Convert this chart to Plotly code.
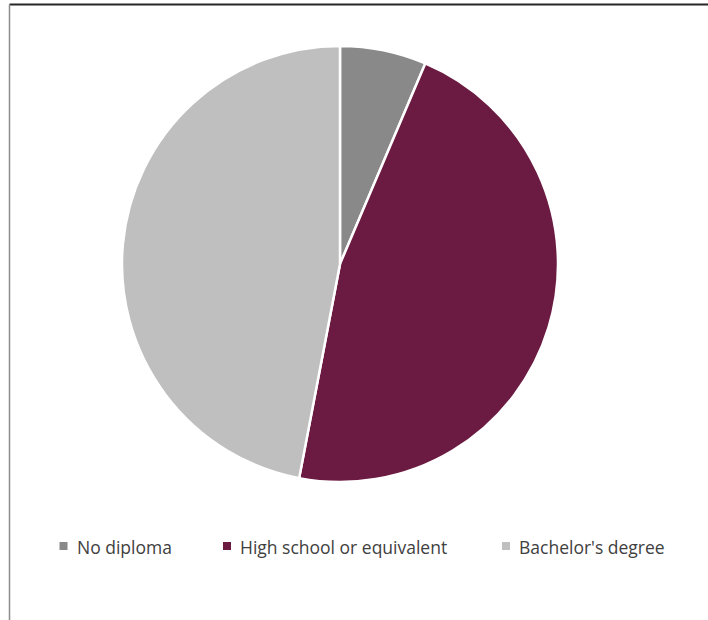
import plotly.graph_objects as go

# Share of respondents by highest education level (percent)
labels = ["No diploma", "High school or equivalent", "Bachelor's degree"]
values = [6.4, 46.6, 47.0]
colors = ["#898989", "#6B1A42", "#BFBFBF"]

W, H = 708, 620

fig = go.Figure(
    go.Pie(
        labels=labels,
        values=values,
        sort=False,
        direction="clockwise",
        rotation=0,
        marker=dict(colors=colors, line=dict(color="#FFFFFF", width=2.5)),
        textinfo="none",
        hoverinfo="label+percent",
        domain=dict(x=[122 / W, 558 / W], y=[1 - 482 / H, 1 - 46 / H]),
        showlegend=False,
    )
)

# Chart-area frame (top and left edges)
shapes = [
    dict(type="line", xref="paper", yref="paper", x0=9.5 / W, x1=1.0,
         y0=1 - 4.5 / H, y1=1 - 4.5 / H, line=dict(color="#262626", width=2)),
    dict(type="line", xref="paper", yref="paper", x0=9.5 / W, x1=9.5 / W,
         y0=0, y1=1 - 4.5 / H, line=dict(color="#8C8C8C", width=1.5)),
]

# Legend row: colour swatch followed by the category name
legend_x = [59.5, 223, 502]
legend_y = 546
annotations = []
for lab, col, x in zip(labels, colors, legend_x):
    shapes.append(dict(type="rect", xref="paper", yref="paper",
                       x0=x / W, x1=(x + 8) / W,
                       y0=1 - (legend_y + 4) / H, y1=1 - (legend_y - 4) / H,
                       fillcolor=col, line=dict(width=0)))
    annotations.append(dict(text=lab, xref="paper", yref="paper",
                            x=(x + 15) / W, y=1 - (legend_y + 0.5) / H,
                            xanchor="left", yanchor="middle", showarrow=False,
                            font=dict(family="Open Sans", size=17.5, color="#404040")))

fig.update_layout(
    width=W, height=H,
    margin=dict(l=0, r=0, t=0, b=0),
    paper_bgcolor="#FFFFFF",
    plot_bgcolor="#FFFFFF",
    shapes=shapes,
    annotations=annotations,
)

fig.write_html("out.html")
